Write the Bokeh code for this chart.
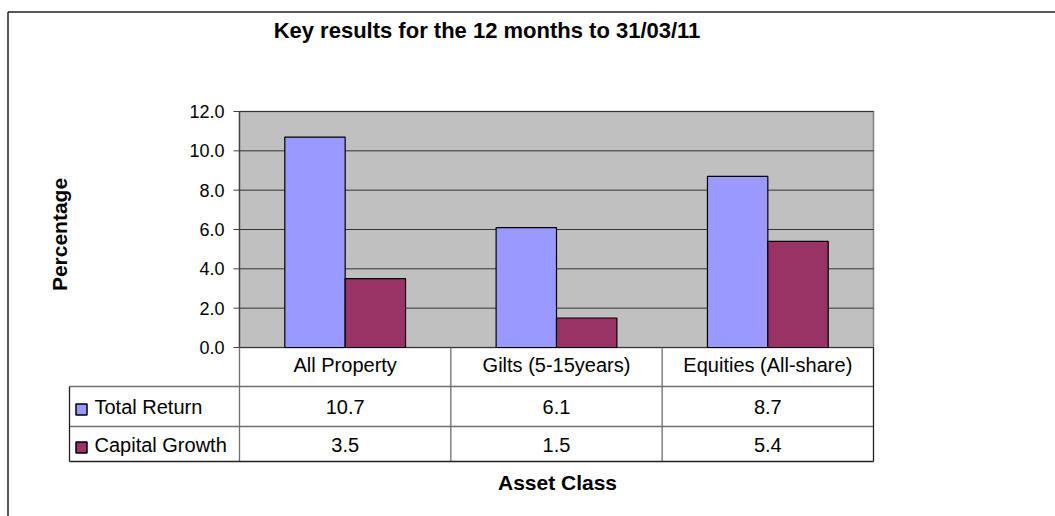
from bokeh.plotting import figure
from bokeh.models import Range1d
from bokeh.embed import file_html
from bokeh.resources import INLINE
from bokeh.core.properties import value
import numpy as np

# ---- data ----
title_text = "Key results for the 12 months to 31/03/11"
categories = ["All Property", "Gilts (5-15years)", "Equities (All-share)"]
series_names = ["Total Return", "Capital Growth"]
total_return = [10.7, 6.1, 8.7]
capital_growth = [3.5, 1.5, 5.4]
yticks = [0, 2, 4, 6, 8, 10, 12]
ytick_labels = ["0.0", "2.0", "4.0", "6.0", "8.0", "10.0", "12.0"]
x_label = "Asset Class"
y_label = "Percentage"
colors = ["#9999FF", "#993366"]

# ---- layout (pixels) ----
W, H = 1055, 516
FL, FR, FT = 239, 873, 111     # plot area left / right / top
Y0 = 347                       # pixel row of value 0
ncat = len(categories)
ymax = max(yticks)
ux = (FR - FL) / ncat
uy = (Y0 - FT) / ymax
FONT = "Liberation Sans"


def px2x(px):
    return -0.5 + (px - FL) / ux


def px2y(py):
    return (Y0 - py) / uy


p = figure(width=W, height=H, output_backend="svg", toolbar_location=None,
           x_range=Range1d(px2x(0), px2x(W)), y_range=Range1d(px2y(H), px2y(0)),
           x_axis_location=None, y_axis_location=None,
           min_border=0, min_border_left=0, min_border_right=0,
           min_border_top=0, min_border_bottom=0)
p.outline_line_color = None
p.background_fill_color = "white"
p.border_fill_color = "white"
p.xgrid.visible = False
p.ygrid.visible = False

XL, XR = -0.5, ncat - 0.5

# plot area background + border
p.quad(left=[XL], right=[XR], bottom=[0], top=[ymax],
       fill_color="#C0C0C0", line_color="#808080", line_width=1.5)

# gridlines
yt = np.array(yticks, dtype=float)
p.segment(x0=[XL] * len(yt), x1=[XR] * len(yt), y0=yt, y1=yt,
          line_color="#333333", line_width=1)

# y axis line, ticks, labels
p.segment(x0=[XL], x1=[XL], y0=[0], y1=[ymax], line_color="#404040", line_width=1.2)
p.segment(x0=[px2x(233)] * len(yt), x1=[XL] * len(yt), y0=yt, y1=yt,
          line_color="#404040", line_width=1)
p.text(x=[px2x(224)] * len(yt), y=yt, text=ytick_labels, text_align="right",
       text_baseline="middle", text_font=value(FONT), text_font_size="18px",
       text_color="black")

# bars
idx = np.arange(ncat)
bw = 1 / 3.5
p.vbar(x=idx - bw / 2, top=total_return, bottom=0, width=bw,
       fill_color=colors[0], line_color="black", line_width=1.2)
p.vbar(x=idx + bw / 2, top=capital_growth, bottom=0, width=bw,
       fill_color=colors[1], line_color="black", line_width=1.2)

# ---- data table ----
rows_px = [347, 386, 426, 461]
ry = [px2y(v) for v in rows_px]
LEFT_COL = px2x(69)
GRID = "#707070"
# internal horizontal lines
p.segment(x0=[LEFT_COL, LEFT_COL], x1=[XR, XR], y0=[ry[1], ry[2]], y1=[ry[1], ry[2]],
          line_color=GRID, line_width=1.3)
# internal vertical lines (category boundaries)
vx = [XL] + [i + 0.5 for i in range(ncat - 1)]
p.segment(x0=vx, x1=vx, y0=[ry[0]] * len(vx), y1=[ry[3]] * len(vx),
          line_color=GRID, line_width=1.3)
# outer edges
p.segment(x0=[XR, LEFT_COL, LEFT_COL], x1=[XR, LEFT_COL, XR],
          y0=[ry[0], ry[1], ry[3]], y1=[ry[3], ry[3], ry[3]],
          line_color="#202020", line_width=1.3)

text_centers_px = [364.5, 406, 444]
cy = [px2y(v) for v in text_centers_px]
p.text(x=idx, y=[cy[0]] * ncat, text=categories, text_align="center", text_baseline="middle",
       text_font=value(FONT), text_font_size="20px", text_color="black")
for r, vals in enumerate([total_return, capital_growth]):
    p.text(x=idx, y=[cy[r + 1]] * ncat, text=["%.1f" % v for v in vals],
           text_align="center", text_baseline="middle",
           text_font=value(FONT), text_font_size="20px", text_color="black")
    p.scatter(x=[px2x(81)], y=[px2y(text_centers_px[r + 1] + 3)], marker="square", size=11,
              fill_color=colors[r], line_color="black", line_width=1.5)
    p.text(x=[px2x(94)], y=[cy[r + 1]], text=[series_names[r]], text_align="left",
           text_baseline="middle", text_font=value(FONT), text_font_size="20px",
           text_color="black")

# titles
p.text(x=[px2x(486.5)], y=[px2y(30)], text=[title_text], text_align="center",
       text_baseline="alphabetic", text_font=value(FONT), text_font_style="bold",
       text_font_size="22px", text_color="black")
p.text(x=[px2x(557)], y=[px2y(482)], text=[x_label], text_align="center",
       text_baseline="alphabetic", text_font=value(FONT), text_font_style="bold",
       text_font_size="21px", text_color="black")
p.text(x=[px2x(59)], y=[px2y(234)], text=[y_label], angle=np.pi / 2, text_align="center",
       text_baseline="alphabetic", text_font=value(FONT), text_font_style="bold",
       text_font_size="21px", text_color="black")

# outer chart border (left and top edges visible)
p.segment(x0=[px2x(7.5), px2x(7.5)], x1=[px2x(7.5), px2x(W + 5)],
          y0=[px2y(11.5), px2y(11.5)], y1=[px2y(H + 5), px2y(11.5)],
          line_color="#222222", line_width=1.5)

open("out.html", "w").write(file_html(p, INLINE))
